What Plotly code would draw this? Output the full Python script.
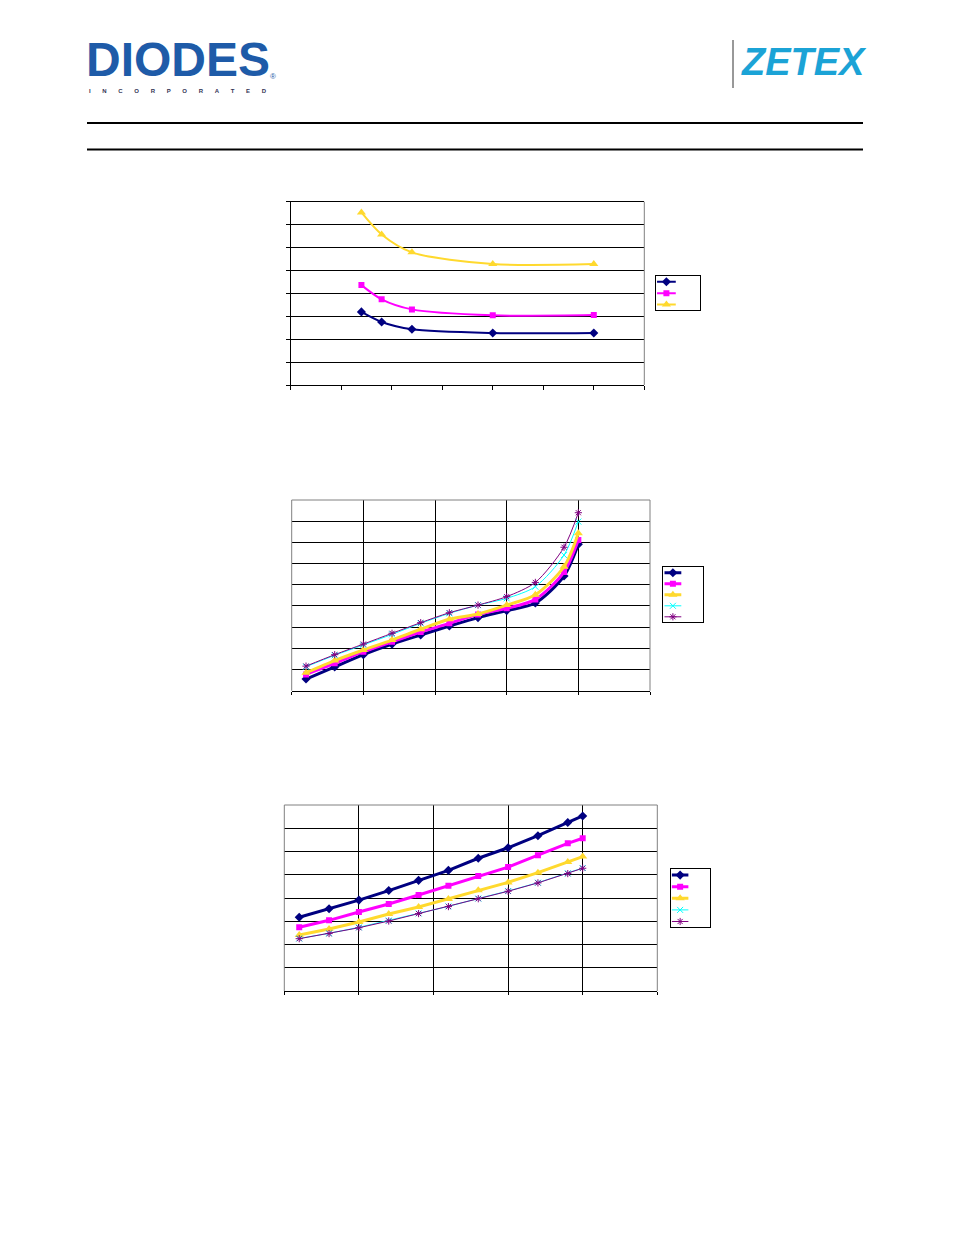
import plotly.graph_objects as go

W, H = 954, 1235
OFF = 8                    # default body margin of the html page
FW, FH = W - 2 * OFF, H - 2 * OFF

# chart 1 (three curves, smoothed)
c1_x = [14, 18, 24, 40, 60]
c1_navy = [3.19, 2.75, 2.43, 2.27, 2.27]
c1_magenta = [4.36, 3.74, 3.30, 3.04, 3.05]
c1_yellow = [7.53, 6.57, 5.79, 5.28, 5.28]

# chart 2 (five curves)
c2_x = [1, 3, 5, 7, 9, 11, 13, 15, 17, 19, 20]
c2_navy = [0.55, 1.12, 1.70, 2.20, 2.63, 3.05, 3.45, 3.78, 4.14, 5.41, 6.91]
c2_magenta = [0.77, 1.29, 1.84, 2.31, 2.77, 3.18, 3.60, 3.89, 4.31, 5.60, 7.11]
c2_yellow = [0.85, 1.42, 1.92, 2.39, 2.90, 3.37, 3.62, 4.04, 4.53, 5.85, 7.43]
c2_cyan = [1.13, 1.67, 2.16, 2.66, 3.18, 3.65, 4.04, 4.36, 4.91, 6.40, 7.98]
c2_purple = [1.16, 1.70, 2.20, 2.71, 3.21, 3.68, 4.04, 4.44, 5.11, 6.77, 8.40]

# chart 3 (five curves)
c3_x = [1, 3, 5, 7, 9, 11, 13, 15, 17, 19, 20]
c3_navy = [3.17, 3.54, 3.91, 4.32, 4.76, 5.19, 5.71, 6.16, 6.68, 7.25, 7.53]
c3_magenta = [2.74, 3.04, 3.40, 3.74, 4.13, 4.53, 4.95, 5.33, 5.84, 6.35, 6.57]
c3_yellow = [2.41, 2.67, 2.97, 3.31, 3.61, 3.96, 4.33, 4.67, 5.09, 5.55, 5.78]
c3_cyan = [2.26, 2.48, 2.74, 3.03, 3.34, 3.64, 3.98, 4.30, 4.66, 5.06, 5.29]
c3_purple = [2.25, 2.47, 2.72, 3.01, 3.33, 3.63, 3.97, 4.29, 4.65, 5.05, 5.28]

NAVY, MAGENTA, YELLOW, CYAN, PURPLE = "#000080", "#FF00FF", "#FFD92E", "#00FFFF", "#800080"
GRAY = "#808080"


def px(x):
    return (x - OFF) / FW


def py(y):
    return 1 - (y - OFF) / FH


def dom(x0, x1, y0, y1):
    return [px(x0), px(x1)], [py(y1), py(y0)]


# series styles: (color, symbol, line width, marker size, open line symbol)
STY = {
    "navy": (NAVY, "diamond", 3, 7, False),
    "magenta": (MAGENTA, "square", 3, 6, False),
    "yellow": (YELLOW, "triangle-up", 3, 8, False),
    "cyan": (CYAN, "x-thin-open", 1, 6, True),
    "purple": (PURPLE, "asterisk-open", 1, 6, True),
}

charts = [
    dict(x=c1_x, series=[("navy", c1_navy), ("magenta", c1_magenta), ("yellow", c1_yellow)],
         shape="spline", width=2),
    dict(x=c2_x, series=[("navy", c2_navy), ("magenta", c2_magenta), ("yellow", c2_yellow),
                         ("cyan", c2_cyan), ("purple", c2_purple)], shape="spline", width=None),
    dict(x=c3_x, series=[("navy", c3_navy), ("magenta", c3_magenta), ("yellow", c3_yellow),
                         ("cyan", c3_cyan), ("purple", c3_purple)], shape="linear", width=None),
]

fig = go.Figure()

for k, ch in enumerate(charts):
    xa = "x" if k == 0 else "x" + str(k + 1)
    ya = "y" if k == 0 else "y" + str(k + 1)
    lxa, lya = "x" + str(k + 4), "y" + str(k + 4)
    for i, (key, vals) in enumerate(ch["series"]):
        color, sym, lw, ms, thin = STY[key]
        if ch["width"] and not thin:
            lw = ch["width"]
        mk = dict(symbol=sym, size=ms, color=color)
        if thin:
            mk["line"] = dict(color=color, width=1)
        fig.add_trace(go.Scatter(x=ch["x"], y=vals, mode="lines+markers", showlegend=False,
                                 line=dict(color=color, width=lw, shape=ch["shape"], smoothing=0.8),
                                 marker=mk, xaxis=xa, yaxis=ya))
        # legend sample row: short line plus one marker
        fig.add_trace(go.Scatter(x=[0.03, 0.45], y=[i + 0.5, i + 0.5], mode="lines", showlegend=False,
                                 line=dict(color=color, width=lw), xaxis=lxa, yaxis=lya))
        fig.add_trace(go.Scatter(x=[0.24], y=[i + 0.5], mode="markers", showlegend=False,
                                 marker=mk, xaxis=lxa, yaxis=lya))

d1x, d1y = dom(290.7, 644.3, 201.7, 385)
d2x, d2y = dom(291.7, 650, 500, 690.7)
d3x, d3y = dom(284.3, 657.3, 805, 991)
l1x, l1y = dom(655.7, 700.3, 276, 310.3)
l2x, l2y = dom(663.3, 703.3, 567.3, 622.3)
l3x, l3y = dom(670.7, 710, 869.3, 927.3)

ax_common = dict(showticklabels=False, zeroline=False, linecolor="black", tickcolor="black",
                 gridcolor="black", gridwidth=1, fixedrange=True)
leg_common = dict(showticklabels=False, showgrid=False, zeroline=False, showline=True,
                  mirror=True, linecolor="black", linewidth=1, ticks="", fixedrange=True)

fig.update_layout(
    width=FW, height=FH, margin=dict(l=0, r=0, t=0, b=0),
    paper_bgcolor="white", plot_bgcolor="white",
    xaxis=dict(domain=d1x, anchor="y", range=[0, 70], dtick=10, showgrid=False,
               showline=True, mirror=True, ticks="outside", ticklen=4, **ax_common),
    yaxis=dict(domain=d1y, anchor="x", range=[0, 8], dtick=1, showgrid=True,
               showline=True, ticks="outside", ticklen=4, **ax_common),
    xaxis2=dict(domain=d2x, anchor="y2", range=[0, 25], dtick=5, showgrid=True,
                showline=True, ticks="outside", ticklen=3, **ax_common),
    yaxis2=dict(domain=d2y, anchor="x2", range=[0, 9], dtick=1, showgrid=True,
                showline=False, ticks="", **ax_common),
    xaxis3=dict(domain=d3x, anchor="y3", range=[0, 25], dtick=5, showgrid=True,
                showline=True, ticks="outside", ticklen=3, **ax_common),
    yaxis3=dict(domain=d3y, anchor="x3", range=[0, 8], dtick=1, showgrid=True,
                showline=False, ticks="", **ax_common),
    xaxis4=dict(domain=l1x, anchor="y4", range=[0, 1], **leg_common),
    yaxis4=dict(domain=l1y, anchor="x4", range=[3, 0], **leg_common),
    xaxis5=dict(domain=l2x, anchor="y5", range=[0, 1], **leg_common),
    yaxis5=dict(domain=l2y, anchor="x5", range=[5, 0], **leg_common),
    xaxis6=dict(domain=l3x, anchor="y6", range=[0, 1], **leg_common),
    yaxis6=dict(domain=l3y, anchor="x6", range=[5, 0], **leg_common),
    showlegend=False,
)

shapes = []
# gray plot borders
shapes.append(dict(type="line", xref="x domain", yref="y domain", x0=1, x1=1, y0=0, y1=1,
                   line=dict(color=GRAY, width=1)))
for xr, yr in [("x2 domain", "y2 domain"), ("x3 domain", "y3 domain")]:
    shapes.append(dict(type="line", xref=xr, yref=yr, x0=0, x1=0, y0=0, y1=1, line=dict(color=GRAY, width=1)))
    shapes.append(dict(type="line", xref=xr, yref=yr, x0=0, x1=1, y0=1, y1=1, line=dict(color=GRAY, width=1)))
    shapes.append(dict(type="line", xref=xr, yref=yr, x0=1, x1=1, y0=0, y1=1, line=dict(color=GRAY, width=1)))
# header rules
for yy in (123, 149.5):
    shapes.append(dict(type="line", xref="paper", yref="paper", x0=px(87), x1=px(863), y0=py(yy), y1=py(yy),
                       line=dict(color="black", width=2)))
shapes.append(dict(type="line", xref="paper", yref="paper", x0=px(733), x1=px(733), y0=py(40), y1=py(88),
                   line=dict(color="#333333", width=1)))
fig.update_layout(shapes=shapes)

# logos
DBLUE = "#1E5BA8"
fig.add_annotation(xref="paper", yref="paper", x=px(85), y=py(87), xanchor="left", yanchor="bottom",
                   text="<b>DIODES</b>", showarrow=False, borderpad=0,
                   font=dict(family="Liberation Sans", size=48, color=DBLUE))
nb = "\u00a0" * 7
fig.add_annotation(xref="paper", yref="paper", x=px(88), y=py(87), xanchor="left", yanchor="top",
                   text="<b>" + nb.join("INCORPORATED") + "</b>", showarrow=False, borderpad=0,
                   font=dict(family="Liberation Sans", size=6, color="#333355"))
fig.add_annotation(xref="paper", yref="paper", x=px(269), y=py(77), xanchor="left", yanchor="middle",
                   text="®", showarrow=False, borderpad=0,
                   font=dict(family="Liberation Sans", size=8, color=DBLUE))
fig.add_annotation(xref="paper", yref="paper", x=px(739), y=py(62), xanchor="left", yanchor="middle",
                   text="<b><i>ZETEX</i></b>", showarrow=False,
                   font=dict(family="Liberation Sans", size=38, color="#1BA3D6"))

fig.write_html("out.html")
